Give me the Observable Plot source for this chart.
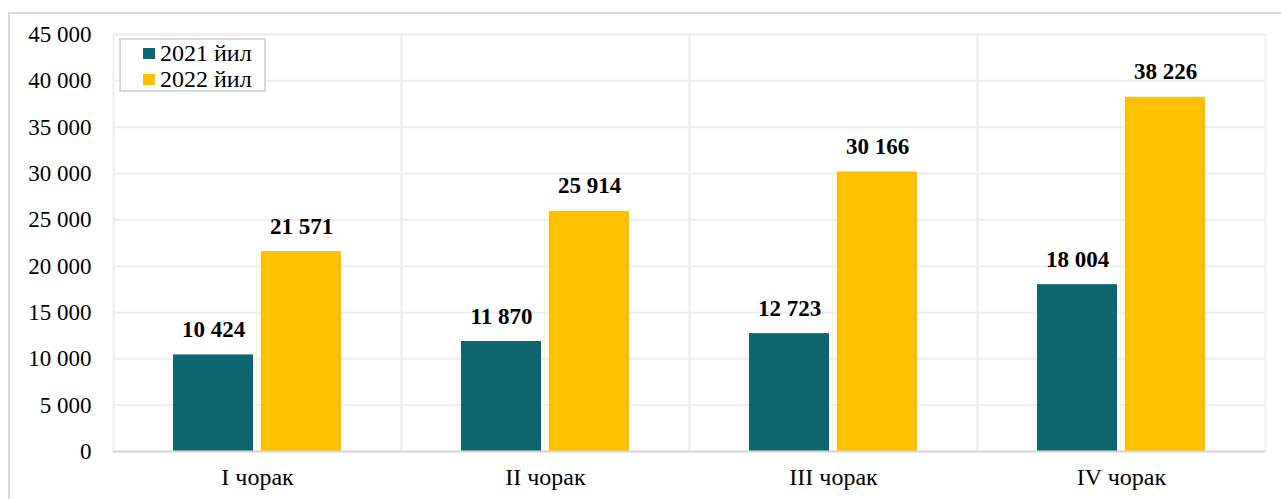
<!DOCTYPE html>
<html>
<head>
<meta charset="utf-8">
<script src="https://cdn.jsdelivr.net/npm/d3@7"></script>
<script src="https://cdn.jsdelivr.net/npm/@observablehq/plot@0.6"></script>
<style>
  html, body { margin: 0; padding: 0; background: #fff; }
  #wrap { position: relative; width: 1281px; height: 499px; overflow: hidden; font-family: "Liberation Serif", "Times New Roman", serif; }
  #border { position: absolute; left: 8px; top: 12px; width: 1290px; height: 600px; border: 2px solid #d9d9d9; box-sizing: border-box; }
  #chart { position: absolute; left: 0; top: 0; }
  #legend { position: absolute; left: 119px; top: 38px; width: 147px; height: 54px; box-sizing: border-box; border: 2px solid #d9d9d9; background: #fff; font-size: 24px; line-height: 26px; color: #000; }
  #legend .row { position: absolute; left: 22px; display: flex; align-items: center; white-space: nowrap; }
  #legend .sw { width: 12px; height: 11px; margin-right: 5px; }
</style>
</head>
<body>
<div id="wrap">
  <div id="border"></div>
  <div id="chart"></div>
  <div id="legend"></div>
</div>
<script>
const categories = ["I чорак", "II чорак", "III чорак", "IV чорак"];
const years = ["2021 йил", "2022 йил"];
const values2021 = [10424, 11870, 12723, 18004];
const values2022 = [21571, 25914, 30166, 38226];
const yTicks = [0, 5000, 10000, 15000, 20000, 25000, 30000, 35000, 40000, 45000];
const colors = ["#0f6673", "#ffc000"];

const rows = [];
categories.forEach((c, i) => {
  rows.push({cat: c, year: years[0], value: values2021[i]});
  rows.push({cat: c, year: years[1], value: values2022[i]});
});

const fmt = v => d3.format(",")(v).replace(/,/g, " ");

const chart = Plot.plot({
  width: 1281,
  height: 499,
  marginLeft: 113,
  marginRight: 16,
  marginTop: 34,
  marginBottom: 48,
  style: {fontFamily: "'Liberation Serif', 'Times New Roman', serif", fontSize: "23px", color: "#000", background: "transparent"},
  fx: {domain: categories, padding: 0, label: null},
  x: {domain: years, paddingInner: 8 / 88, paddingOuter: 120 / 176, axis: null},
  y: {domain: [0, 45000], ticks: yTicks, label: null},
  color: {domain: years, range: colors},
  marks: [
    Plot.gridY(yTicks, {stroke: "#eeeeee", strokeOpacity: 1, strokeWidth: 2}),
    Plot.frame({stroke: "#eeeeee", strokeWidth: 2}),
    Plot.axisY(yTicks, {tickSize: 0, tickPadding: 22, tickFormat: fmt, fontSize: 23, fill: "#000", label: null}),
    Plot.axisFx({tickSize: 0, tickPadding: 16, fontSize: 24, fill: "#000", label: null, anchor: "bottom"}),
    Plot.barY(rows, {fx: "cat", x: "year", y: "value", fill: "year"}),
    Plot.ruleY([0], {stroke: "#d9d9d9", strokeWidth: 2}),
    Plot.text(rows, {fx: "cat", x: "year", y: "value", text: d => fmt(d.value), dy: -18, lineAnchor: "bottom", fontWeight: "bold", fontSize: 23, fill: "#000"})
  ]
});
document.getElementById("chart").appendChild(chart);

const legend = document.getElementById("legend");
years.forEach((y, i) => {
  const row = document.createElement("div");
  row.className = "row";
  row.style.top = (i === 0 ? 0 : 26) + "px";
  const sw = document.createElement("span");
  sw.className = "sw";
  sw.style.background = colors[i];
  const t = document.createElement("span");
  t.textContent = y;
  row.appendChild(sw);
  row.appendChild(t);
  legend.appendChild(row);
});
</script>
</body>
</html>
